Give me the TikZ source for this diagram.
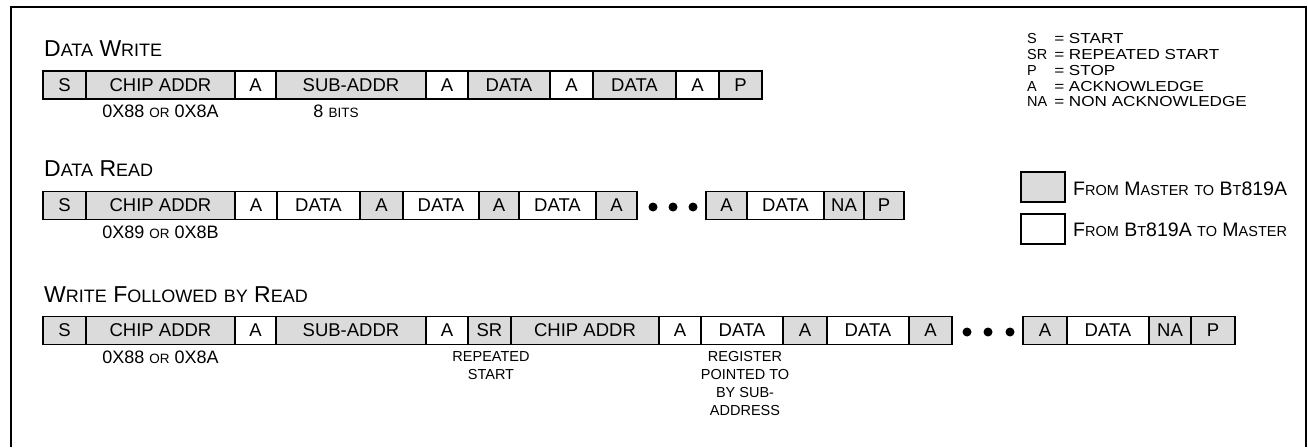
\documentclass[tikz,border=0pt]{standalone}
\usepackage{fontspec}
\setmainfont{Liberation Sans}
\newcommand\lc[1]{{\fontsize{13.5}{16}\selectfont #1}}
\newcommand\tlc[1]{{\fontsize{18}{20}\selectfont #1}}
\newcommand\glc[1]{{\fontsize{14.5}{16}\selectfont #1}}
\begin{document}
\begin{tikzpicture}[x=1pt,y=-1pt,
  cell/.style={draw, line width=1.8pt, minimum height=28pt, inner sep=0pt, font=\fontsize{18.5}{20}\selectfont},
  sh/.style={fill=black!14},
  wh/.style={fill=white},
  ttl/.style={anchor=base west, inner sep=0pt, font=\fontsize{23}{25}\selectfont},
  sub/.style={anchor=base, inner sep=0pt, font=\fontsize{18}{20}\selectfont},
  note/.style={anchor=north, inner sep=0pt, align=center, font=\fontsize{14.5}{18}\selectfont},
  bullet/.style={circle, fill=black, inner sep=0pt, minimum size=9pt},
  leg/.style={anchor=base west, inner sep=0pt, font=\fontsize{14.5}{16}\selectfont},
  legv/.style={leg, transform shape, xscale=1.18},
  legb/.style={anchor=base west, inner sep=0pt, font=\fontsize{19.5}{21}\selectfont}]
\useasboundingbox (0,0) rectangle (1308,447);
\draw[line width=2pt] (11,447) -- (11,7) -- (1306,7) -- (1306,447);

% Row 1: Data Write
\node[ttl] (t1) at (44,56) {D\tlc{ATA} W\tlc{RITE}};
\foreach \a/\b/\f/\t/\n in {43/86/sh/S/a,86/235/sh/CHIP ADDR/b,235/276/wh/A/c,276/426/sh/SUB-ADDR/d,426/468/wh/A/e,468/550/sh/DATA/f,550/593/wh/A/g,593/676/sh/DATA/h,676/719/wh/A/i,719/762/sh/P/j}
  \node[cell,\f,minimum width={(\b-\a)*1pt}] (r1\n) at ({(\a+\b)/2},85) {\t};
\node[sub] (r1l1) at (160.5,117) {0X88 \lc{OR} 0X8A};
\node[sub] (r1l2) at (336,117) {8 \lc{BITS}};

% Row 2: Data Read
\node[ttl] (t2) at (44,176) {D\tlc{ATA} R\tlc{EAD}};
\foreach \a/\b/\f/\t/\n in {43/86/sh/S/a,86/235/sh/CHIP ADDR/b,235/277/wh/A/c,277/360/wh/DATA/d,360/403/sh/A/e,403/479/wh/DATA/f,479/519/sh/A/g,519/596/wh/DATA/h,596/637/sh/A/i,706/747/sh/A/j,747/824/wh/DATA/k,824/864/sh/NA/l,864/904/sh/P/m}
  \node[cell,\f,minimum width={(\b-\a)*1pt}] (r2\n) at ({(\a+\b)/2},205.5) {\t};
\node[bullet] (r2d1) at (653,207) {};
\node[bullet] (r2d2) at (673,207) {};
\node[bullet] (r2d3) at (693,207) {};
\node[sub] (r2l1) at (160.5,238) {0X89 \lc{OR} 0X8B};

% Row 3: Write followed by read
\node[ttl] (t3) at (44,302) {W\tlc{RITE} F\tlc{OLLOWED} \tlc{BY} R\tlc{EAD}};
\foreach \a/\b/\f/\t/\n in {43/86/sh/S/a,86/235/sh/CHIP ADDR/b,235/276/wh/A/c,276/426/sh/SUB-ADDR/d,426/468/wh/A/e,468/511/sh/SR/f,511/659/sh/CHIP ADDR/g,659/701/wh/A/h,701/783/wh/DATA/i,783/827/sh/A/j,827/909/wh/DATA/k,909/952/sh/A/l,1023/1067/sh/A/m,1067/1149/wh/DATA/n,1149/1191/sh/NA/o,1191/1235/sh/P/p}
  \node[cell,\f,minimum width={(\b-\a)*1pt}] (r3\n) at ({(\a+\b)/2},330.5) {\t};
\node[bullet] (r3d1) at (967,332) {};
\node[bullet] (r3d2) at (988,332) {};
\node[bullet] (r3d3) at (1010,332) {};
\node[sub] (r3l1) at (160.5,363) {0X88 \lc{OR} 0X8A};
\node[note] (r3l2) at (491,351.5) {REPEATED\\START};
\node[note] (r3l3) at (745,351.5) {REGISTER\\POINTED TO\\BY SUB-\\ADDRESS};

% Legend: abbreviations
\foreach \y/\k/\v/\n in {43/S/START/a,59/SR/REPEATED START/b,75/P/STOP/c,91/A/ACKNOWLEDGE/d,106/NA/NON ACKNOWLEDGE/e}{
  \node[leg] (k\n) at (1027,\y) {\k};
  \node[legv] (v\n) at (1054,\y) {= \v};
}

% Legend: directions
\node[cell,sh,line width=1.4pt,minimum width=44pt,minimum height=30pt] (lg1) at (1043,187) {};
\node[legb] (lt1) at (1073,195) {F\glc{ROM} M\glc{ASTER} \glc{TO} B\glc{T}819A};
\node[cell,wh,line width=1.4pt,minimum width=44pt,minimum height=30pt] (lg2) at (1043,229) {};
\node[legb] (lt2) at (1073,236) {F\glc{ROM} B\glc{T}819A \glc{TO} M\glc{ASTER}};
\end{tikzpicture}
\end{document}
